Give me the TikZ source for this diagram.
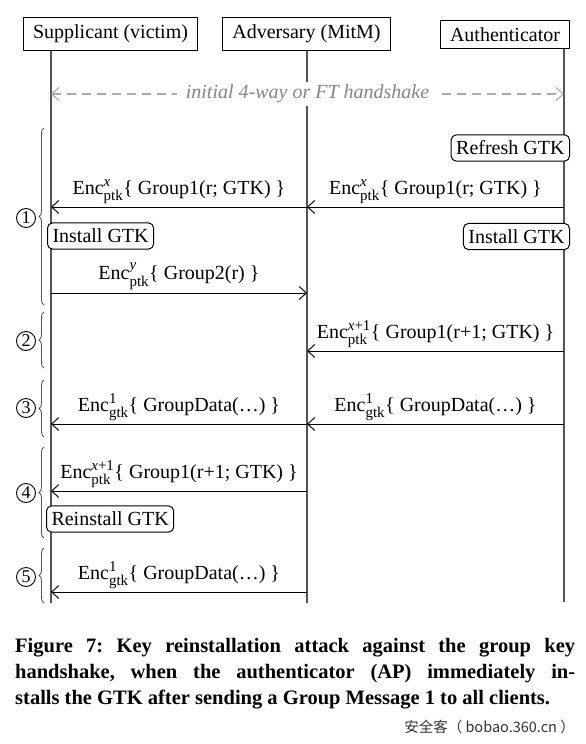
\documentclass[tikz,border=0pt]{standalone}
\usepackage{amsmath}
\usepackage{fontspec}
\setmainfont{Liberation Serif}
\newfontfamily\cjkfont{Noto Sans CJK SC}
\usetikzlibrary{arrows.meta,decorations.pathreplacing}
\DeclareMathSizes{20}{20}{15}{11}

\definecolor{lifegray}{HTML}{555555}
\definecolor{hsgray}{HTML}{ABABAB}
\definecolor{hstext}{HTML}{858585}

\newcommand{\enc}[2]{Enc$^{\text{\itshape #1}}_{\text{#2}}$}

\tikzset{
  big/.style={font=\fontsize{20}{24}\selectfont},
  actor/.style={big,draw=black,line width=1pt,inner xsep=9.5pt,inner ysep=7pt},
  lifeline/.style={draw=lifegray,line width=1.3pt},
  barb/.tip={Straight Barb[length=7pt,width=13pt]},
  msg/.style={draw=black,line width=1pt,-barb},
  msglabel/.style={big,above,midway,inner sep=3pt},
  action/.style={big,draw=black,fill=white,rounded corners=5pt,line width=1pt,inner xsep=5pt,inner ysep=6pt},
  handshake/.style={draw=hsgray,line width=1.1pt,dash pattern=on 9pt off 6pt,barb-barb},
  hslabel/.style={big,midway,fill=white,text=hstext,inner xsep=9pt,font=\fontsize{20}{24}\itshape},
  phase/.style={draw=lifegray,line width=0.9pt,decorate,decoration={brace,amplitude=5pt}},
  phasenum/.style={circle,draw=black,line width=0.9pt,minimum size=19pt,inner sep=0pt,font=\fontsize{18}{18}\selectfont},
}

\begin{document}
\begin{tikzpicture}[x=1pt,y=-1pt]
%\draw[step=10pt,gray,very thin] (0,0) grid (586,744); %background grid
\useasboundingbox (0,0) rectangle (586,744);

% participants
\node[actor] (sup)  at (110.5,34) {Supplicant (victim)};
\node[actor] (adv)  at (306.5,34) {Adversary (MitM)};
\node[actor] (auth) at (505,34.5) {Authenticator};

\coordinate (supEnd)  at (51,603);
\coordinate (advEnd)  at (307,603);
\coordinate (authEnd) at (564,602);

\draw[lifeline] (supEnd |- sup.south)   -- (supEnd);
\draw[lifeline] (advEnd |- adv.south)   -- (advEnd);
\draw[lifeline] (authEnd |- auth.south) -- (authEnd);

\draw[handshake] (supEnd |- 0,94) -- (authEnd |- 0,94) node[hslabel] {initial 4-way or FT handshake};

% phase 1
\node[action,anchor=east] (refresh) at (570,148) {Refresh GTK};
\draw[msg] (authEnd |- 0,207) -- (advEnd |- 0,207) node[msglabel] {\enc{x}{ptk}\{ Group1(r; GTK) \}};
\draw[msg] (advEnd |- 0,207) -- (supEnd |- 0,207) node[msglabel] {\enc{x}{ptk}\{ Group1(r; GTK) \}};
\node[action,anchor=west] (instS) at (47,236) {Install GTK};
\node[action,anchor=east] (instA) at (570,236.5) {Install GTK};
\draw[msg] (supEnd |- 0,293) -- (advEnd |- 0,293) node[msglabel] {\enc{y}{ptk}\{ Group2(r) \}};

% phase 2
\draw[msg] (authEnd |- 0,351) -- (advEnd |- 0,351) node[msglabel] {\enc{x\upshape+1}{ptk}\{ Group1(r+1; GTK) \}};

% phase 3
\draw[msg] (authEnd |- 0,424) -- (advEnd |- 0,424) node[msglabel] {\enc{\upshape 1}{gtk}\{ GroupData(\dots) \}};
\draw[msg] (advEnd |- 0,424) -- (supEnd |- 0,424) node[msglabel] {\enc{\upshape 1}{gtk}\{ GroupData(\dots) \}};

% phase 4
\draw[msg] (advEnd |- 0,491) -- (supEnd |- 0,491) node[msglabel] {\enc{x\upshape+1}{ptk}\{ Group1(r+1; GTK) \}};
\node[action,anchor=west] (reinst) at (46,519) {Reinstall GTK};

% phase 5
\draw[msg] (advEnd |- 0,592) -- (supEnd |- 0,592) node[msglabel] {\enc{\upshape 1}{gtk}\{ GroupData(\dots) \}};

% braces
\draw[phase] (44,305) -- (44,128);
\draw[phase] (44,368) -- (44,312);
\draw[phase] (44,437) -- (44,380);
\draw[phase] (44,538) -- (44,447);
\draw[phase] (44,603) -- (44,548);
\node[phasenum] (p1) at (26,218) {1};
\node[phasenum] (p2) at (26,341) {2};
\node[phasenum] (p3) at (26,408) {3};
\node[phasenum] (p4) at (26,493) {4};
\node[phasenum] (p5) at (26,577) {5};

% caption
\node[anchor=north west,inner sep=0pt,text width=560pt,align=justify,
      font=\fontsize{20.5}{25.8}\selectfont\bfseries] (cap) at (15,638.5)
  {\frenchspacing\tolerance=9999\hyphenpenalty=10000\parfillskip=0pt
   Figure 7: Key reinstallation attack against the group key\linebreak
   handshake, when the authenticator (AP) immediately in-\linebreak
   stalls the GTK after sending a Group Message 1 to all clients.};
\node[anchor=east,inner sep=0pt,text=black!80,font=\cjkfont\fontsize{14.5}{16}\selectfont] (mark) at (575,727) {安全客（ bobao.360.cn ）};

\end{tikzpicture}
\end{document}
